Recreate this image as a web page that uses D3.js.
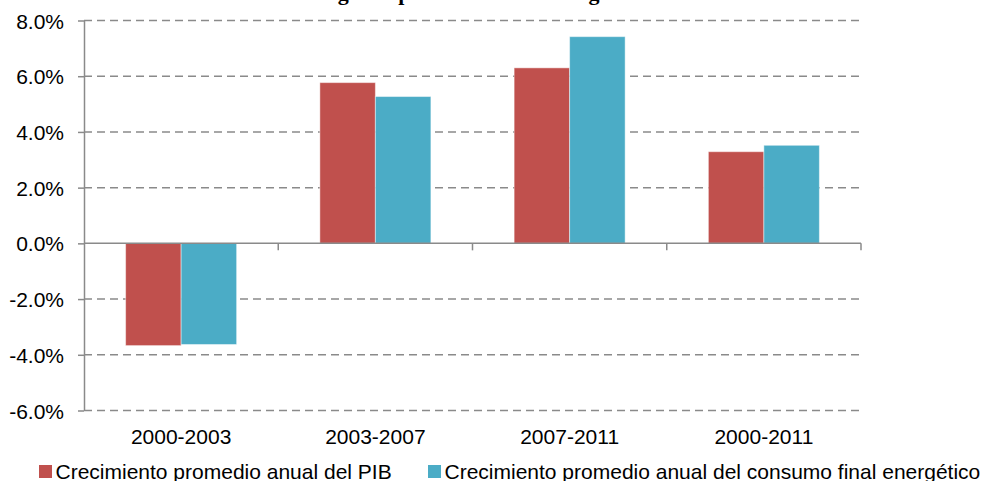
<!DOCTYPE html>
<html>
<head>
<meta charset="utf-8">
<script src="https://cdn.jsdelivr.net/npm/d3@7"></script>
<style>
  html, body { margin: 0; padding: 0; background: #fff; }
  svg { display: block; }
  text { font-family: "Liberation Sans", Arial, sans-serif; fill: #000; }
</style>
</head>
<body>
<svg id="chart" width="986" height="481"></svg>
<script>
// Periods and average annual growth rates (%)
const categories = ["2000-2003", "2003-2007", "2007-2011", "2000-2011"];
const seriesNames = [
  "Crecimiento promedio anual del PIB",
  "Crecimiento promedio anual del consumo final energético"
];
const pibValues = [-3.67, 5.77, 6.30, 3.29];
const energiaValues = [-3.63, 5.27, 7.42, 3.52];
const yTicks = [-6, -4, -2, 0, 2, 4, 6, 8];
const colors = ["#C0504D", "#4BACC6"];
const titleText = "Crecimiento energético promedio del PIB regional";

const svg = d3.select("#chart");
const plot = { left: 84, right: 861, top: 20.5, bottom: 410.5 };

const y = d3.scaleLinear().domain([-6, 8]).range([plot.bottom, plot.top]);
const x = d3.scaleBand().domain(categories).range([plot.left, plot.right]).padding(0);
const xSub = d3.scaleBand().domain([0, 1]).range([0, x.bandwidth()])
  .paddingInner(0).paddingOuter(0.75);

const gridColor = "#8a8a8a";
const labelSize = "21px";
const pct = d => d.toFixed(1) + "%";   // plain hyphen for negatives

// Title, sitting above the top edge of the frame (only descenders show)
svg.append("text")
  .attr("x", 175).attr("y", -0.5)
  .attr("text-anchor", "start")
  .style("font-family", "'Liberation Serif', 'Times New Roman', serif")
  .style("font-weight", "bold")
  .style("font-size", "22px")
  .text(titleText);

// Dashed horizontal gridlines (not at zero)
svg.append("g").selectAll("line")
  .data(yTicks.filter(d => d !== 0))
  .join("line")
  .attr("x1", plot.left).attr("x2", plot.right)
  .attr("y1", d => y(d)).attr("y2", d => y(d))
  .attr("stroke", gridColor).attr("stroke-width", 1.5)
  .attr("stroke-dasharray", "8,5");

// Bars
const series = [pibValues, energiaValues];
const barData = [];
categories.forEach((c, i) => {
  series.forEach((vals, s) => barData.push({ cat: c, s, v: vals[i] }));
});
svg.append("g").selectAll("rect")
  .data(barData)
  .join("rect")
  .attr("x", d => x(d.cat) + xSub(d.s))
  .attr("width", xSub.bandwidth())
  .attr("y", d => Math.min(y(d.v), y(0)))
  .attr("height", d => Math.abs(y(d.v) - y(0)))
  .attr("fill", d => colors[d.s])
  .attr("stroke", "#ffffff").attr("stroke-opacity", 0.45).attr("stroke-width", 1);

// Category axis on the zero line
const xAxis = d3.axisBottom(x).tickSize(0).tickFormat("");
const gx = svg.append("g").attr("transform", `translate(0,${y(0)})`).call(xAxis);
gx.select(".domain").remove();
gx.append("line")
  .attr("x1", plot.left).attr("x2", plot.right)
  .attr("stroke", gridColor).attr("stroke-width", 1.5);
const boundaries = categories.map(c => x(c)).slice(1).concat([plot.right]);
gx.selectAll(".bound").data(boundaries).join("line")
  .attr("class", "bound")
  .attr("x1", d => d).attr("x2", d => d)
  .attr("y1", 0).attr("y2", 7)
  .attr("stroke", gridColor).attr("stroke-width", 1.5);

// Category labels below the plot
svg.append("g").selectAll("text")
  .data(categories)
  .join("text")
  .attr("x", d => x(d) + x.bandwidth() / 2)
  .attr("y", 443.5)
  .attr("text-anchor", "middle")
  .style("font-size", labelSize)
  .text(d => d);

// Value axis
const yAxis = d3.axisLeft(y).tickValues(yTicks).tickSize(6).tickSizeOuter(0)
  .tickFormat(pct);
const gy = svg.append("g").attr("transform", `translate(${plot.left},0)`).call(yAxis);
gy.select(".domain").attr("stroke", gridColor).attr("stroke-width", 1.5);
gy.selectAll(".tick line").attr("stroke", gridColor).attr("stroke-width", 1.5);
gy.selectAll(".tick text")
  .attr("x", -20).attr("dy", "0.36em")
  .style("font-size", labelSize)
  .style("font-family", "'Liberation Sans', Arial, sans-serif")
  .attr("fill", "#000");

// Legend
const legendItems = [
  { name: seriesNames[0], color: colors[0], x: 39 },
  { name: seriesNames[1], color: colors[1], x: 428 }
];
const lg = svg.append("g").selectAll("g").data(legendItems).join("g")
  .attr("transform", d => `translate(${d.x},465)`);
lg.append("rect").attr("width", 13).attr("height", 13).attr("fill", d => d.color);
lg.append("text").attr("x", 16.5).attr("y", 13.5)
  .style("font-size", labelSize).text(d => d.name);
</script>
</body>
</html>
